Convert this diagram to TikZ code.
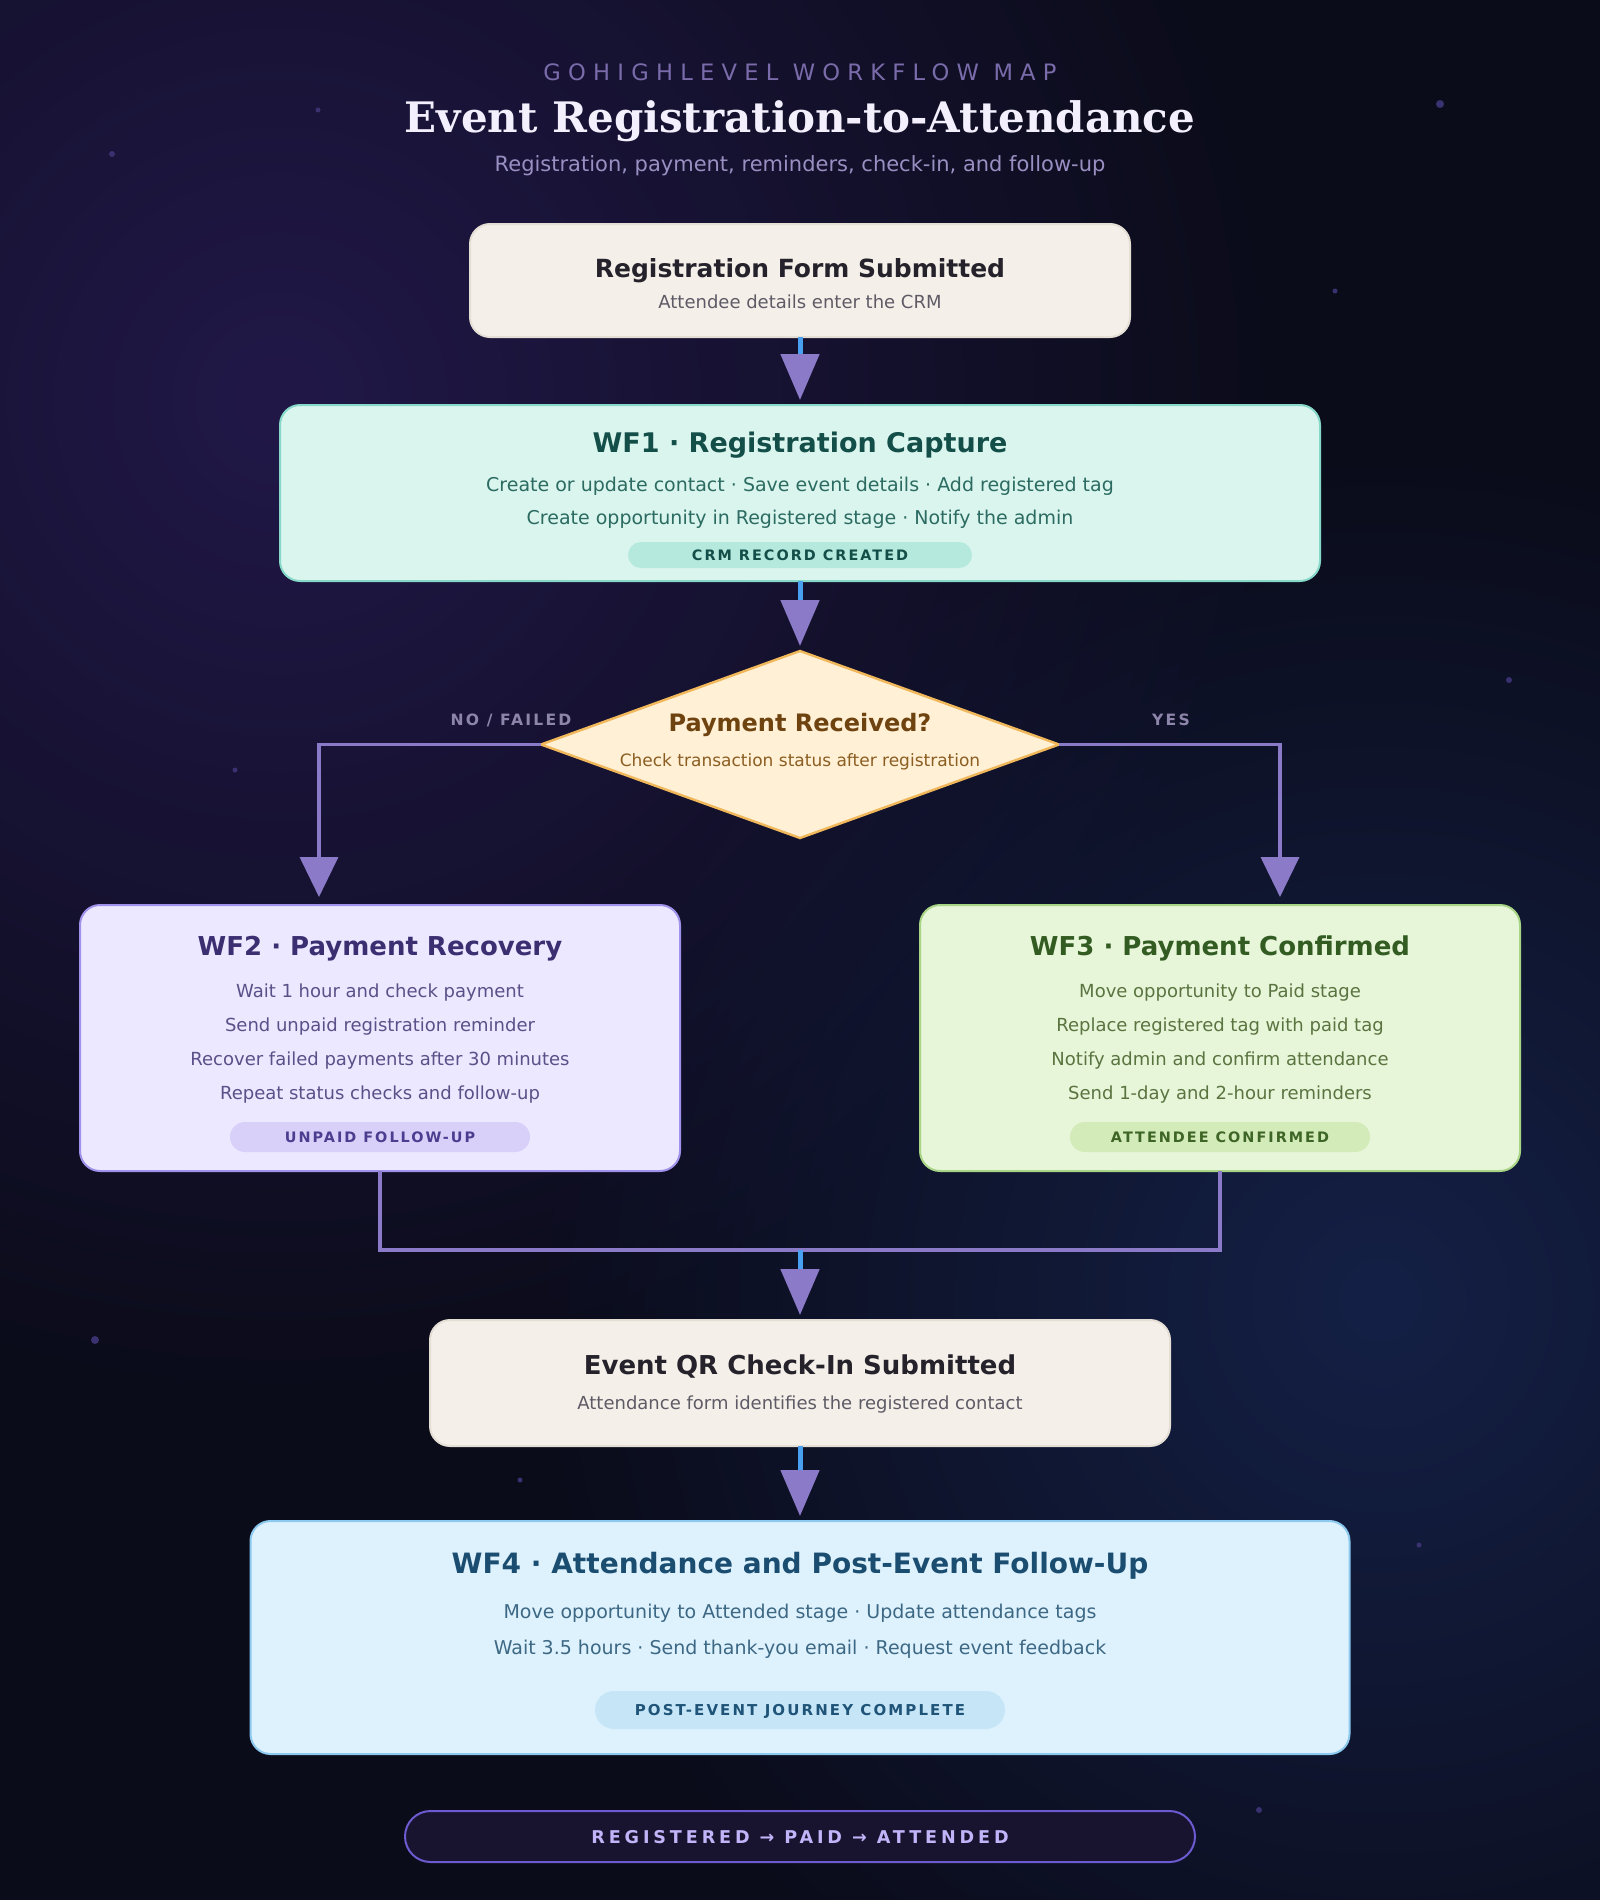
\documentclass[tikz,border=0pt]{standalone}
\usepackage{fontspec}
\setmainfont{DejaVu Sans}
\newfontfamily\serifbf{DejaVu Serif}
\newfontfamily\trackwide[LetterSpace=32]{DejaVu Sans}
\newfontfamily\trackmid[LetterSpace=22]{DejaVu Sans}
\newfontfamily\tracksm[LetterSpace=14]{DejaVu Sans}
\usetikzlibrary{arrows.meta, positioning, shapes.geometric, fadings}
\tikzfading[name=glowfade, inner color=transparent!0, outer color=transparent!100]
\definecolor{bgc}{HTML}{0B0C1A}
\definecolor{glowp}{HTML}{211848}
\definecolor{glowb}{HTML}{142046}
\definecolor{dotc}{HTML}{3A3170}
\definecolor{headlbl}{HTML}{7A6BAA}
\definecolor{headttl}{HTML}{F3EFFD}
\definecolor{headsub}{HTML}{9A8FC2}
\definecolor{linkc}{HTML}{8A7AC8}
\definecolor{stubc}{HTML}{4AA0F0}
\definecolor{branchlbl}{HTML}{8E85AA}
\definecolor{sandf}{HTML}{F4F0E9}
\definecolor{sandb}{HTML}{E4DED4}
\definecolor{sandt}{HTML}{25222B}
\definecolor{sands}{HTML}{5F5B66}
\definecolor{tealf}{HTML}{DAF5EE}
\definecolor{tealb}{HTML}{86D8C8}
\definecolor{tealt}{HTML}{134E48}
\definecolor{teals}{HTML}{2B6B61}
\definecolor{tealp}{HTML}{B5E9DD}
\definecolor{goldf}{HTML}{FFF0D6}
\definecolor{goldb}{HTML}{F0B85A}
\definecolor{goldt}{HTML}{6E430F}
\definecolor{golds}{HTML}{8B5E22}
\definecolor{lilf}{HTML}{EBE8FF}
\definecolor{lilb}{HTML}{A092EA}
\definecolor{lilt}{HTML}{3B2F72}
\definecolor{lils}{HTML}{5B5088}
\definecolor{lilp}{HTML}{D8D0F8}
\definecolor{lilpt}{HTML}{4B3D90}
\definecolor{leaff}{HTML}{E7F5D9}
\definecolor{leafb}{HTML}{A8D486}
\definecolor{leaft}{HTML}{335C22}
\definecolor{leafs}{HTML}{5A7440}
\definecolor{leafp}{HTML}{D3EAB9}
\definecolor{leafpt}{HTML}{3D6526}
\definecolor{skyf}{HTML}{DEF2FE}
\definecolor{skyb}{HTML}{8CC9EE}
\definecolor{skyt}{HTML}{1A4D70}
\definecolor{skys}{HTML}{3D6884}
\definecolor{skyp}{HTML}{C6E6F8}
\definecolor{skypt}{HTML}{1F5478}
\definecolor{footf}{HTML}{181430}
\definecolor{footb}{HTML}{6C5AD0}
\definecolor{foott}{HTML}{C2B4F8}

\begin{document}
\begin{tikzpicture}[x=0.5pt, y=-0.5pt,
      card/.style={draw, line width=1pt, rounded corners=10pt, inner sep=0pt, outer sep=0pt},
      tag/.style={inner sep=0pt, outer sep=0pt},
      ttl/.style={anchor=mid, inner sep=0pt, font=\fontsize{13}{15}\selectfont\bfseries},
      sttl/.style={anchor=mid, inner sep=0pt, font=\fontsize{12.5}{14}\selectfont\bfseries},
      txt/.style={anchor=mid, inner sep=0pt, font=\fontsize{9}{11}\selectfont},
      wtxt/.style={anchor=mid, inner sep=0pt, font=\fontsize{9.5}{11}\selectfont},
      tagtxt/.style={anchor=mid, inner sep=0pt, font=\tracksm\fontsize{7.2}{9}\selectfont\bfseries},
      arr/.style={-{Triangle[length=23pt, width=19pt, color=linkc]}, line width=2.5pt, stubc, shorten >=2.5pt},
      branch/.style={-{Triangle[length=20pt, width=19pt]}, line width=1.8pt, linkc, shorten >=4pt},
      link/.style={line width=1.8pt, linkc}]
    \useasboundingbox (0,0) rectangle (1600,1900);
    % backdrop
    \begin{scope}
      \clip (0,0) rectangle (1600,1900);
      \fill[bgc] (0,0) rectangle (1600,1900);
      \fill[glowp, path fading=glowfade] (280,400) circle[radius=1000];
      \fill[glowb, path fading=glowfade] (1380,1300) circle[radius=850];
      \foreach \px/\py/\r in {318/110/2.5, 112/154/3, 1440/104/4, 1335/291/2.5, 1509/680/3,
                              235/770/2.5, 95/1340/4, 520/1480/2.5, 1419/1545/2.5, 1259/1810/3}
        \fill[dotc] (\px,\py) circle[radius=\r];
    \end{scope}

    % heading
    \node[anchor=mid, inner sep=0pt, text=headlbl, font=\trackwide\fontsize{11.3}{13}\selectfont] (kicker) at (800,75) {GOHIGHLEVEL WORKFLOW MAP};
    \node[anchor=mid, inner sep=0pt, text=headttl, font=\serifbf\fontsize{21}{24}\selectfont\bfseries] (title) at (800,127) {Event Registration-to-Attendance};
    \node[anchor=mid, inner sep=0pt, text=headsub, font=\fontsize{10.5}{12}\selectfont] (subtitle) at (800,166) {Registration, payment, reminders, check-in, and follow-up};

    % form submitted
    \node[card, draw=sandb, fill=sandf, minimum width=330pt, minimum height=56.5pt] (form) at (800,280.5) {};
    \node[sttl, text=sandt] (formt) at (800,272) {Registration Form Submitted};
    \node[txt, text=sands] (forms) at (800,303) {Attendee details enter the CRM};

    % WF1
    \node[card, draw=tealb, fill=tealf, minimum width=520pt, minimum height=88pt] (wf1) at (800,493) {};
    \node[ttl, text=tealt, font=\fontsize{13.5}{15}\selectfont\bfseries] (wf1t) at (800,447) {WF1 · Registration Capture};
    \node[wtxt, text=teals] (wf1a) at (800,486) {Create or update contact · Save event details · Add registered tag};
    \node[wtxt, text=teals] (wf1b) at (800,519) {Create opportunity in Registered stage · Notify the admin};
    \node[tag, fill=tealp, rounded corners=6.5pt, minimum width=172pt, minimum height=13pt] (wf1p) at (800,555) {};
    \node[tagtxt, text=tealt] (wf1pt) at (800,555.5) {CRM RECORD CREATED};

    % decision
    \node[diamond, draw=goldb, fill=goldf, line width=1.2pt, inner sep=0pt, outer sep=0pt,
          minimum width=259pt, minimum height=93.5pt] (pay) at (800,744.5) {};
    \node[sttl, text=goldt, font=\fontsize{12}{14}\selectfont\bfseries] (payt) at (800,726) {Payment Received?};
    \node[anchor=mid, inner sep=0pt, text=golds, font=\fontsize{8.5}{10}\selectfont] (pays) at (800,761) {Check transaction status after registration};

    % WF2
    \node[card, draw=lilb, fill=lilf, minimum width=300pt, minimum height=133pt] (wf2) at (380,1038) {};
    \node[ttl, text=lilt] (wf2t) at (380,950) {WF2 · Payment Recovery};
    \node[txt, text=lils] (wf2a) at (380,992) {Wait 1 hour and check payment};
    \node[txt, text=lils] (wf2b) at (380,1026) {Send unpaid registration reminder};
    \node[txt, text=lils] (wf2c) at (380,1060) {Recover failed payments after 30 minutes};
    \node[txt, text=lils] (wf2d) at (380,1094) {Repeat status checks and follow-up};
    \node[tag, fill=lilp, rounded corners=7.5pt, minimum width=150pt, minimum height=15pt] (wf2p) at (380,1137) {};
    \node[tagtxt, text=lilpt] (wf2pt) at (380,1137.5) {UNPAID FOLLOW-UP};

    % WF3
    \node[card, draw=leafb, fill=leaff, minimum width=300pt, minimum height=133pt] (wf3) at (1220,1038) {};
    \node[ttl, text=leaft] (wf3t) at (1220,950) {WF3 · Payment Confirmed};
    \node[txt, text=leafs] (wf3a) at (1220,992) {Move opportunity to Paid stage};
    \node[txt, text=leafs] (wf3b) at (1220,1026) {Replace registered tag with paid tag};
    \node[txt, text=leafs] (wf3c) at (1220,1060) {Notify admin and confirm attendance};
    \node[txt, text=leafs] (wf3d) at (1220,1094) {Send 1-day and 2-hour reminders};
    \node[tag, fill=leafp, rounded corners=7.5pt, minimum width=150pt, minimum height=15pt] (wf3p) at (1220,1137) {};
    \node[tagtxt, text=leafpt] (wf3pt) at (1220,1137.5) {ATTENDEE CONFIRMED};

    % check-in
    \node[card, draw=sandb, fill=sandf, minimum width=370pt, minimum height=63pt] (qr) at (800,1383) {};
    \node[sttl, text=sandt, font=\fontsize{13}{15}\selectfont\bfseries] (qrt) at (800,1369) {Event QR Check-In Submitted};
    \node[txt, text=sands] (qrs) at (800,1404) {Attendance form identifies the registered contact};

    % WF4
    \node[card, draw=skyb, fill=skyf, minimum width=549.5pt, minimum height=116.5pt] (wf4) at (800,1637.5) {};
    \node[ttl, text=skyt, font=\fontsize{14}{16}\selectfont\bfseries] (wf4t) at (800,1568) {WF4 · Attendance and Post-Event Follow-Up};
    \node[wtxt, text=skys] (wf4a) at (800,1613) {Move opportunity to Attended stage · Update attendance tags};
    \node[wtxt, text=skys] (wf4b) at (800,1649) {Wait 3.5 hours · Send thank-you email · Request event feedback};
    \node[tag, fill=skyp, rounded corners=9.5pt, minimum width=205pt, minimum height=19pt] (wf4p) at (800,1710) {};
    \node[tagtxt, text=skypt, font=\tracksm\fontsize{7.5}{9}\selectfont\bfseries] (wf4pt) at (800,1710.5) {POST-EVENT JOURNEY COMPLETE};

    % footer
    \node[tag, draw=footb, fill=footf, line width=1pt, rounded corners=12.75pt, minimum width=395pt, minimum height=25.5pt] (foot) at (800,1836.5) {};
    \node[anchor=mid, inner sep=0pt, text=foott, font=\trackmid\fontsize{8.8}{10}\selectfont\bfseries] (footl) at (800,1838) {REGISTERED → PAID → ATTENDED};

    % connectors
    \coordinate (merge) at (800,1250);
    \coordinate (nodrop) at ([xshift=-30.5pt]wf2.north);
    \coordinate (yesdrop) at ([xshift=30pt]wf3.north);
    \draw[arr] (form) -- (wf1);
    \draw[arr] (wf1) -- (pay.north);
    \draw[branch] (pay.west) -| (nodrop);
    \draw[branch] (pay.east) -| (yesdrop);
    \node[anchor=mid, inner sep=0pt, text=branchlbl, font=\tracksm\fontsize{7.8}{9}\selectfont\bfseries] (nolbl) at (511,720) {NO / FAILED};
    \node[anchor=mid, inner sep=0pt, text=branchlbl, font=\tracksm\fontsize{7.8}{9}\selectfont\bfseries] (yeslbl) at (1171,720) {YES};
    \draw[link] (wf2.south) |- (merge) -| (wf3.south);
    \draw[arr] (merge) -- (qr);
    \draw[arr] (qr) -- (wf4);
  \end{tikzpicture}
\end{document}
